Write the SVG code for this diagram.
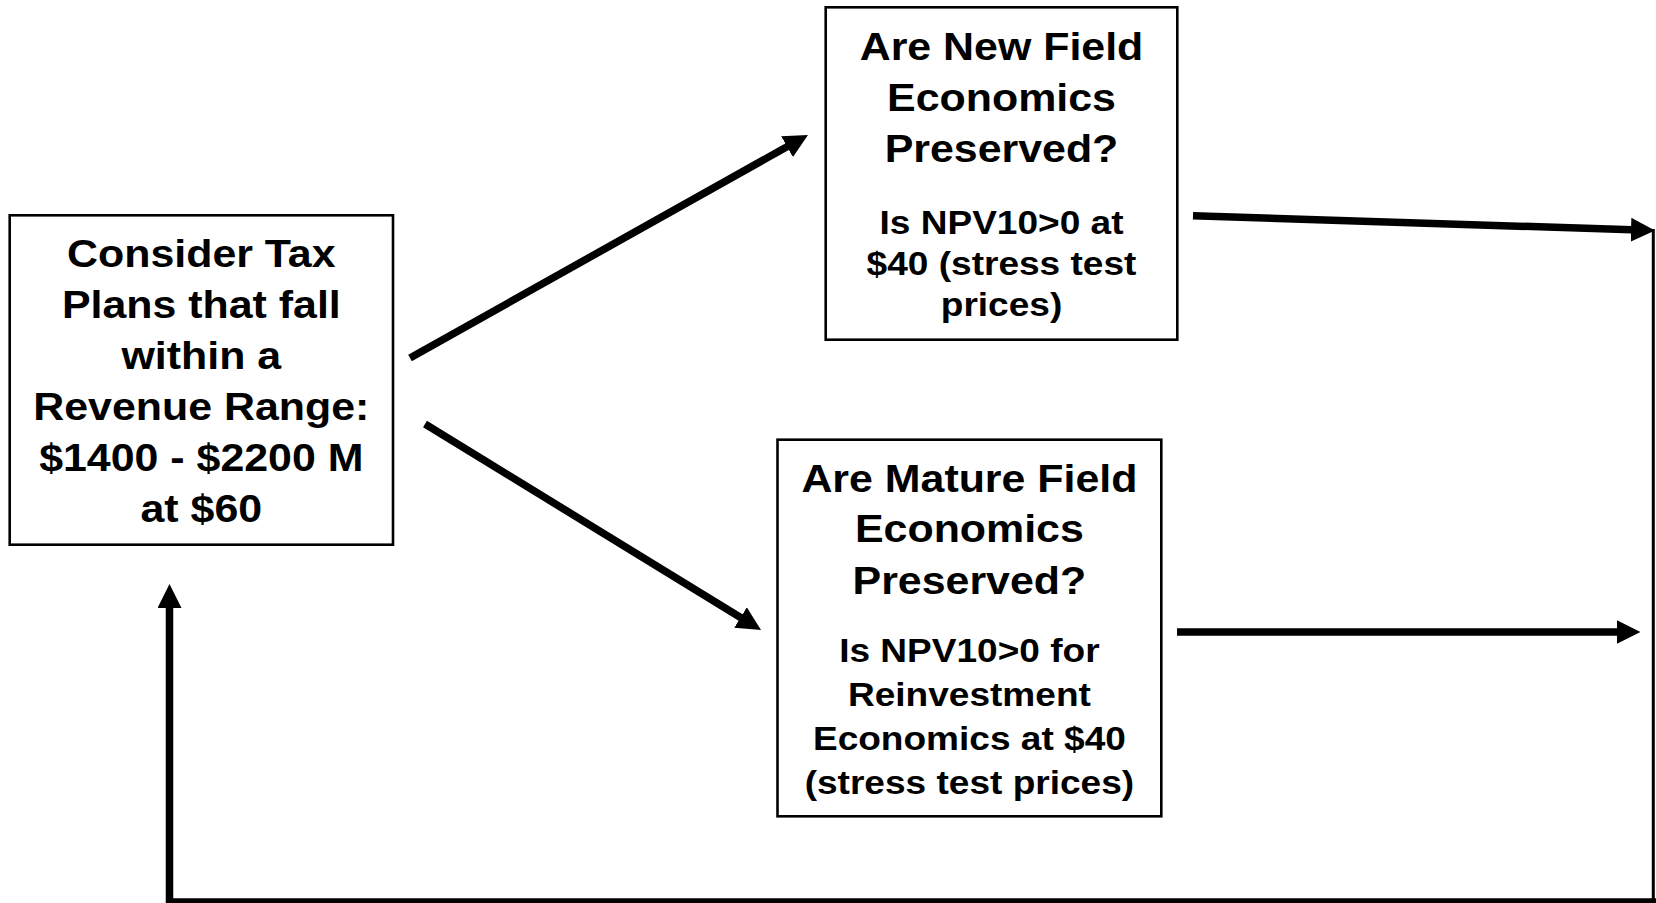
<svg xmlns="http://www.w3.org/2000/svg" width="1656" height="903" viewBox="0 0 1656 903">
<style>
.box{fill:#fff;stroke:#000;stroke-width:2.6}
.t{font-family:"Liberation Sans",Arial,sans-serif;font-weight:bold;fill:#000;text-anchor:middle}
.h{font-size:39px}
.s{font-size:34px}
.c{fill:none;stroke:#000;stroke-width:7.5}
</style>
<defs>
<marker id="ah" markerUnits="userSpaceOnUse" markerWidth="24" markerHeight="24" viewBox="0 -12 24 24" refX="1" refY="0" orient="auto">
<path d="M0,-12 L24,0 L0,12 z" fill="#000"/>
</marker>
</defs>
<rect width="1656" height="903" fill="#fff"/>
<g id="n1">
<rect class="box" x="9.7" y="215.3" width="383.3" height="329.4"/>
<g class="t h" transform="translate(201.3 0) scale(1.1 1)">
<text x="0" y="267.5">Consider Tax</text>
<text x="0" y="318.5">Plans that fall</text>
<text x="0" y="369.5">within a</text>
<text x="0" y="420.5">Revenue Range:</text>
<text x="0" y="471.5">$1400 - $2200 M</text>
<text x="0" y="522.5">at $60</text>
</g>
</g>
<g id="n2">
<rect class="box" x="825.7" y="7.3" width="351.6" height="332.4"/>
<g class="t" transform="translate(1001.5 0)">
<g transform="scale(1.1 1)">
<text class="h" x="0" y="60">Are New Field</text>
<text class="h" x="0" y="111">Economics</text>
<text class="h" x="0" y="162">Preserved?</text>
</g>
<g transform="scale(1.09 1)">
<text class="s" x="0" y="234">Is NPV10&gt;0 at</text>
<text class="s" x="0" y="275">$40 (stress test</text>
<text class="s" x="0" y="316">prices)</text>
</g>
</g>
</g>
<g id="n3">
<rect class="box" x="777.5" y="439.7" width="383.8" height="376.6"/>
<g class="t" transform="translate(969.4 0)">
<g transform="scale(1.1 1)">
<text class="h" x="0" y="492">Are Mature Field</text>
<text class="h" x="0" y="542">Economics</text>
<text class="h" x="0" y="594">Preserved?</text>
</g>
<g transform="scale(1.09 1)">
<text class="s" x="0" y="662">Is NPV10&gt;0 for</text>
<text class="s" x="0" y="706.5">Reinvestment</text>
<text class="s" x="0" y="750">Economics at $40</text>
<text class="s" x="0" y="794">(stress test prices)</text>
</g>
</g>
</g>
<g id="connectors">
<line class="c" x1="410" y1="358" x2="787.9" y2="146.2" marker-end="url(#ah)"/>
<line class="c" x1="425" y1="424" x2="741.4" y2="618" marker-end="url(#ah)"/>
<line class="c" x1="1193" y1="215.7" x2="1632" y2="229.8" marker-end="url(#ah)"/>
<line class="c" x1="1177" y1="632" x2="1617.5" y2="632" marker-end="url(#ah)"/>
<line x1="1653.3" y1="229" x2="1653.3" y2="902" stroke="#000" stroke-width="3"/>
<polyline class="c" points="1656,902 169.5,902 169.5,607" marker-end="url(#ah)"/>
</g>
</svg>
